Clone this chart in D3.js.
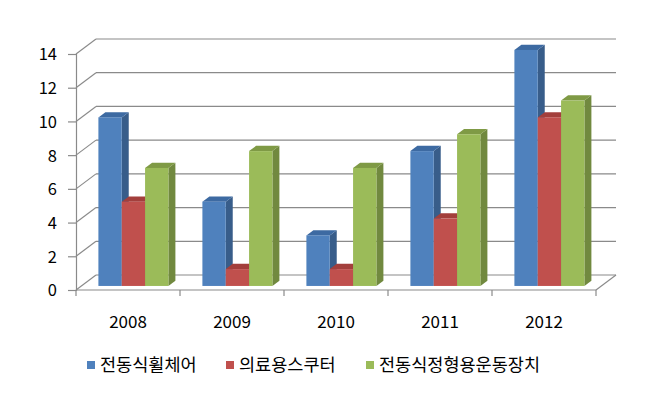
<!DOCTYPE html>
<html>
<head>
<meta charset="utf-8">
<script src="https://cdn.jsdelivr.net/npm/d3@7"></script>
<style>
  body { margin: 0; background: #fff; }
  text { font-family: "Noto Sans CJK KR", "Noto Sans", sans-serif; fill: #000; }
</style>
</head>
<body>
<div id="chart"></div>
<script>
const years = ['2008', '2009', '2010', '2011', '2012'];
const seriesNames = ['전동식휠체어', '의료용스쿠터', '전동식정형용운동장치'];
const wheelchair = [10, 5, 3, 8, 14];
const scooter = [5, 1, 1, 4, 10];
const orthoDevice = [7, 8, 7, 9, 11];
const yTicks = [0, 2, 4, 6, 8, 10, 12, 14];

const colors = [
  { front: '#4f81bd', top: '#3d6aa2', side: '#385d8a' },
  { front: '#c0504d', top: '#a33f3c', side: '#8c3836' },
  { front: '#9bbb59', top: '#7f9a45', side: '#71893f' }
];

const width = 652, height = 414;
const depthX = 20, depthY = -15;   // full depth of the 3d box
const f0 = 0.27, f1 = 0.62;        // bar front/back depth fraction

const svg = d3.select('#chart').append('svg')
  .attr('width', width)
  .attr('height', height);

const x = d3.scaleBand().domain(years).range([76, 596]);
const y = d3.scaleLinear().domain([0, 14]).range([290, 54]);
const inner = d3.scaleBand().domain(d3.range(3)).range([0, 70]);
const groupPad = (x.bandwidth() - 70) / 2;

const grid = svg.append('g').attr('stroke', '#8a8a8a').attr('stroke-width', 1.2).attr('fill', 'none');

// back wall gridlines
grid.selectAll('.back').data(yTicks).enter().append('line')
  .attr('x1', 76 + depthX).attr('x2', 596 + depthX)
  .attr('y1', d => y(d) + depthY).attr('y2', d => y(d) + depthY);

// side wall lines
grid.selectAll('.side').data(yTicks).enter().append('line')
  .attr('x1', 76).attr('x2', 76 + depthX)
  .attr('y1', d => y(d)).attr('y2', d => y(d) + depthY);

// floor edges
grid.append('line').attr('x1', 76).attr('x2', 596).attr('y1', y(0)).attr('y2', y(0));
grid.append('line').attr('x1', 596).attr('x2', 596 + depthX).attr('y1', y(0)).attr('y2', y(0) + depthY);

// category boundary ticks
const bounds = years.map(d => x(d)).concat([x.range()[1]]);
grid.selectAll('.ctick').data(bounds).enter().append('line')
  .attr('x1', d => d).attr('x2', d => d)
  .attr('y1', y(0)).attr('y2', y(0) + 6);

// front value axis
const yAxis = svg.append('g')
  .attr('transform', 'translate(76,0)')
  .call(d3.axisLeft(y).tickValues(yTicks).tickSize(8).tickPadding(11));
yAxis.select('.domain').attr('stroke', '#8a8a8a').attr('stroke-width', 1.2);
yAxis.selectAll('.tick line').attr('stroke', '#8a8a8a').attr('stroke-width', 1.2);
yAxis.selectAll('text').style('font-size', '16.5px').attr('fill', '#000')
  .attr('dy', '0.36em')
  .style('font-family', '"Noto Sans CJK KR", sans-serif');

// category labels
const xAxis = svg.append('g')
  .attr('transform', 'translate(0,' + y(0) + ')')
  .call(d3.axisBottom(x).tickSize(0));
xAxis.select('.domain').remove();
xAxis.selectAll('text').style('font-size', '17px').attr('fill', '#000')
  .attr('y', 32).attr('dy', '0.36em')
  .style('font-family', '"Noto Sans CJK KR", sans-serif');

// bars
const allSeries = [wheelchair, scooter, orthoDevice];
const bars = [];
years.forEach((yr, i) => {
  allSeries.forEach((vals, s) => {
    bars.push({ year: yr, s: s, value: vals[i] });
  });
});

const sx0 = f0 * depthX, sy0 = f0 * depthY;
const ddx = (f1 - f0) * depthX, ddy = (f1 - f0) * depthY;

const barG = svg.append('g').selectAll('g').data(bars).enter().append('g');

barG.each(function (d) {
  const g = d3.select(this);
  const x0 = x(d.year) + groupPad + inner(d.s) + sx0;
  const x1 = x0 + inner.bandwidth();
  const yb = y(0) + sy0;
  const yt = y(d.value) + sy0;
  const c = colors[d.s];
  g.append('path')
    .attr('d', `M${x1},${yb}L${x1 + ddx},${yb + ddy}L${x1 + ddx},${yt + ddy}L${x1},${yt}Z`)
    .attr('fill', c.side);
  g.append('path')
    .attr('d', `M${x0},${yt}L${x0 + ddx},${yt + ddy}L${x1 + ddx},${yt + ddy}L${x1},${yt}Z`)
    .attr('fill', c.top);
  g.append('rect')
    .attr('x', x0).attr('y', yt)
    .attr('width', inner.bandwidth()).attr('height', yb - yt)
    .attr('fill', c.front);
});

// legend
const legendX = [87, 226, 366];
const legend = svg.append('g').selectAll('g').data(seriesNames).enter().append('g')
  .attr('transform', (d, i) => 'translate(' + legendX[i] + ',365)');
legend.append('rect')
  .attr('x', 0).attr('y', -4).attr('width', 8).attr('height', 8)
  .attr('fill', (d, i) => colors[i].front);
legend.append('text')
  .attr('x', 13).attr('dy', '0.36em')
  .style('font-size', '17.5px')
  .text(d => d);
</script>
</body>
</html>
